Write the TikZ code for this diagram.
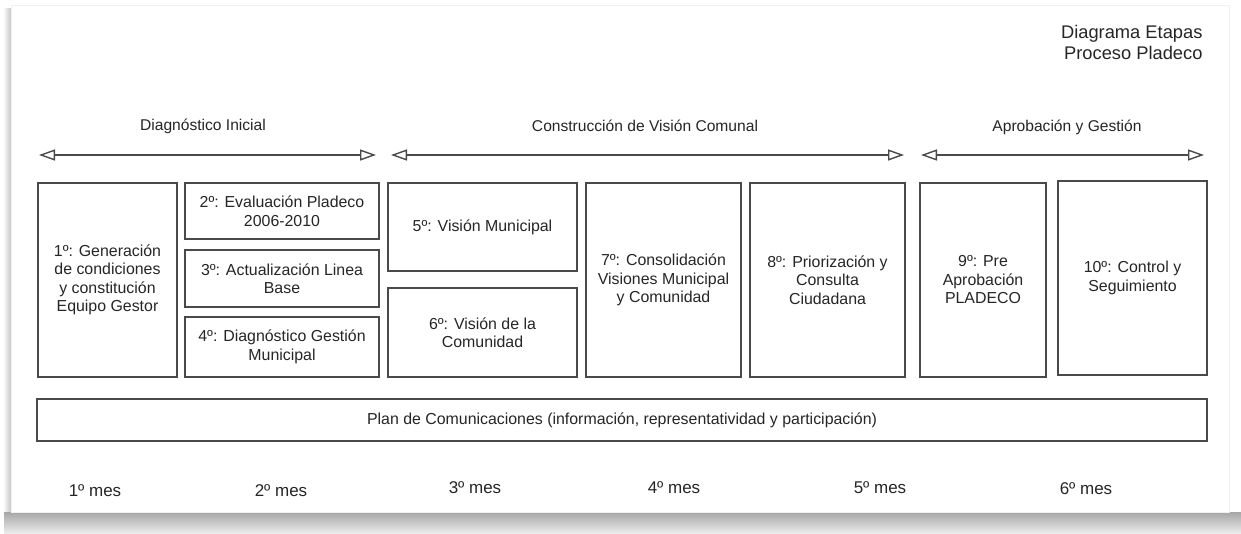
\documentclass[tikz,border=0pt]{standalone}
\usepackage{fontspec}
\setmainfont{Liberation Sans}
\usetikzlibrary{arrows.meta}
\definecolor{ln}{HTML}{4A4A4A}
\definecolor{tx}{HTML}{262626}
\tikzset{
  stage/.style={draw=ln, line width=1.5pt, inner sep=0pt, outer sep=0pt, anchor=north west,
    align=center, text=tx, font=\fontsize{15.9}{18.5}\selectfont},
  phase/.style={text=tx, font=\fontsize{15.6}{18}\selectfont},
  month/.style={text=tx, font=\fontsize{17}{20}\selectfont},
  span/.style={draw=ln, line width=1.4pt, {Triangle[open, length=16pt, width=11pt, line width=1.4pt]}-{Triangle[open, length=16pt, width=11pt, line width=1.4pt]}},
}
\newcommand{\stagebox}[6]{%
  \node[stage, minimum width={#4-#2}, minimum height={#5-#3}] (#1) at (#2,#3) {#6};}
\begin{document}
\begin{tikzpicture}[x=1pt, y=-1pt]
\useasboundingbox (0,0) rectangle (1241,533);
% page and shadow
\fill[white] (0,0) rectangle (1241,533);
\shade[left color=white, right color=gray!45] (3,8) rectangle (11,512);
\shade[top color=gray!70, bottom color=gray!15] (4,512) rectangle (1241,533);
\draw[gray!12, line width=0.8pt] (11,5) rectangle (1229,512);
% title
\node[text=tx, font=\fontsize{18.3}{21}\selectfont, align=right, anchor=north east] (title) at (1206,22) {Diagrama Etapas\\Proceso Pladeco};
% phases
\node[phase] (p1) at (203,126) {Diagnóstico Inicial};
\node[phase] (p2) at (645,126) {Construcción de Visión Comunal};
\node[phase] (p3) at (1067,127) {Aprobación y Gestión};
\coordinate (a1s) at (39,155); \coordinate (a1e) at (376,155);
\coordinate (a2s) at (391,155); \coordinate (a2e) at (904,155);
\coordinate (a3s) at (921,155); \coordinate (a3e) at (1204,155);
\draw[span] (a1s) -- (a1e);
\draw[span] (a2s) -- (a2e);
\draw[span] (a3s) -- (a3e);
% stages
\stagebox{b1}{38}{183}{177}{377}{1º: Generación\\de condiciones\\y constitución\\Equipo Gestor}
\stagebox{b2}{185}{183}{379}{239}{2º: Evaluación Pladeco\\2006-2010}
\stagebox{b3}{185}{250}{379}{307}{3º: Actualización Linea\\Base}
\stagebox{b4}{185}{317}{379}{377}{4º: Diagnóstico Gestión\\Municipal}
\stagebox{b5}{388}{183}{577}{271}{5º: Visión Municipal}
\stagebox{b6}{388}{288}{577}{377}{6º: Visión de la\\Comunidad}
\stagebox{b7}{586}{183}{741}{377}{7º: Consolidación\\Visiones Municipal\\y Comunidad}
\stagebox{b8}{750}{183}{905}{377}{8º: Priorización y\\Consulta\\Ciudadana}
\stagebox{b9}{920}{183}{1046}{377}{9º: Pre\\Aprobación\\PLADECO}
\stagebox{b10}{1058}{181}{1207}{375}{10º: Control y\\Seguimiento}
\stagebox{plan}{37}{399}{1207}{441}{Plan de Comunicaciones (información, representatividad y participación)}
% months
\node[month] (m1) at (95,491) {1º mes};
\node[month] (m2) at (281,491) {2º mes};
\node[month] (m3) at (475,488) {3º mes};
\node[month] (m4) at (674,488) {4º mes};
\node[month] (m5) at (880,488) {5º mes};
\node[month] (m6) at (1086,489) {6º mes};
\end{tikzpicture}
\end{document}
